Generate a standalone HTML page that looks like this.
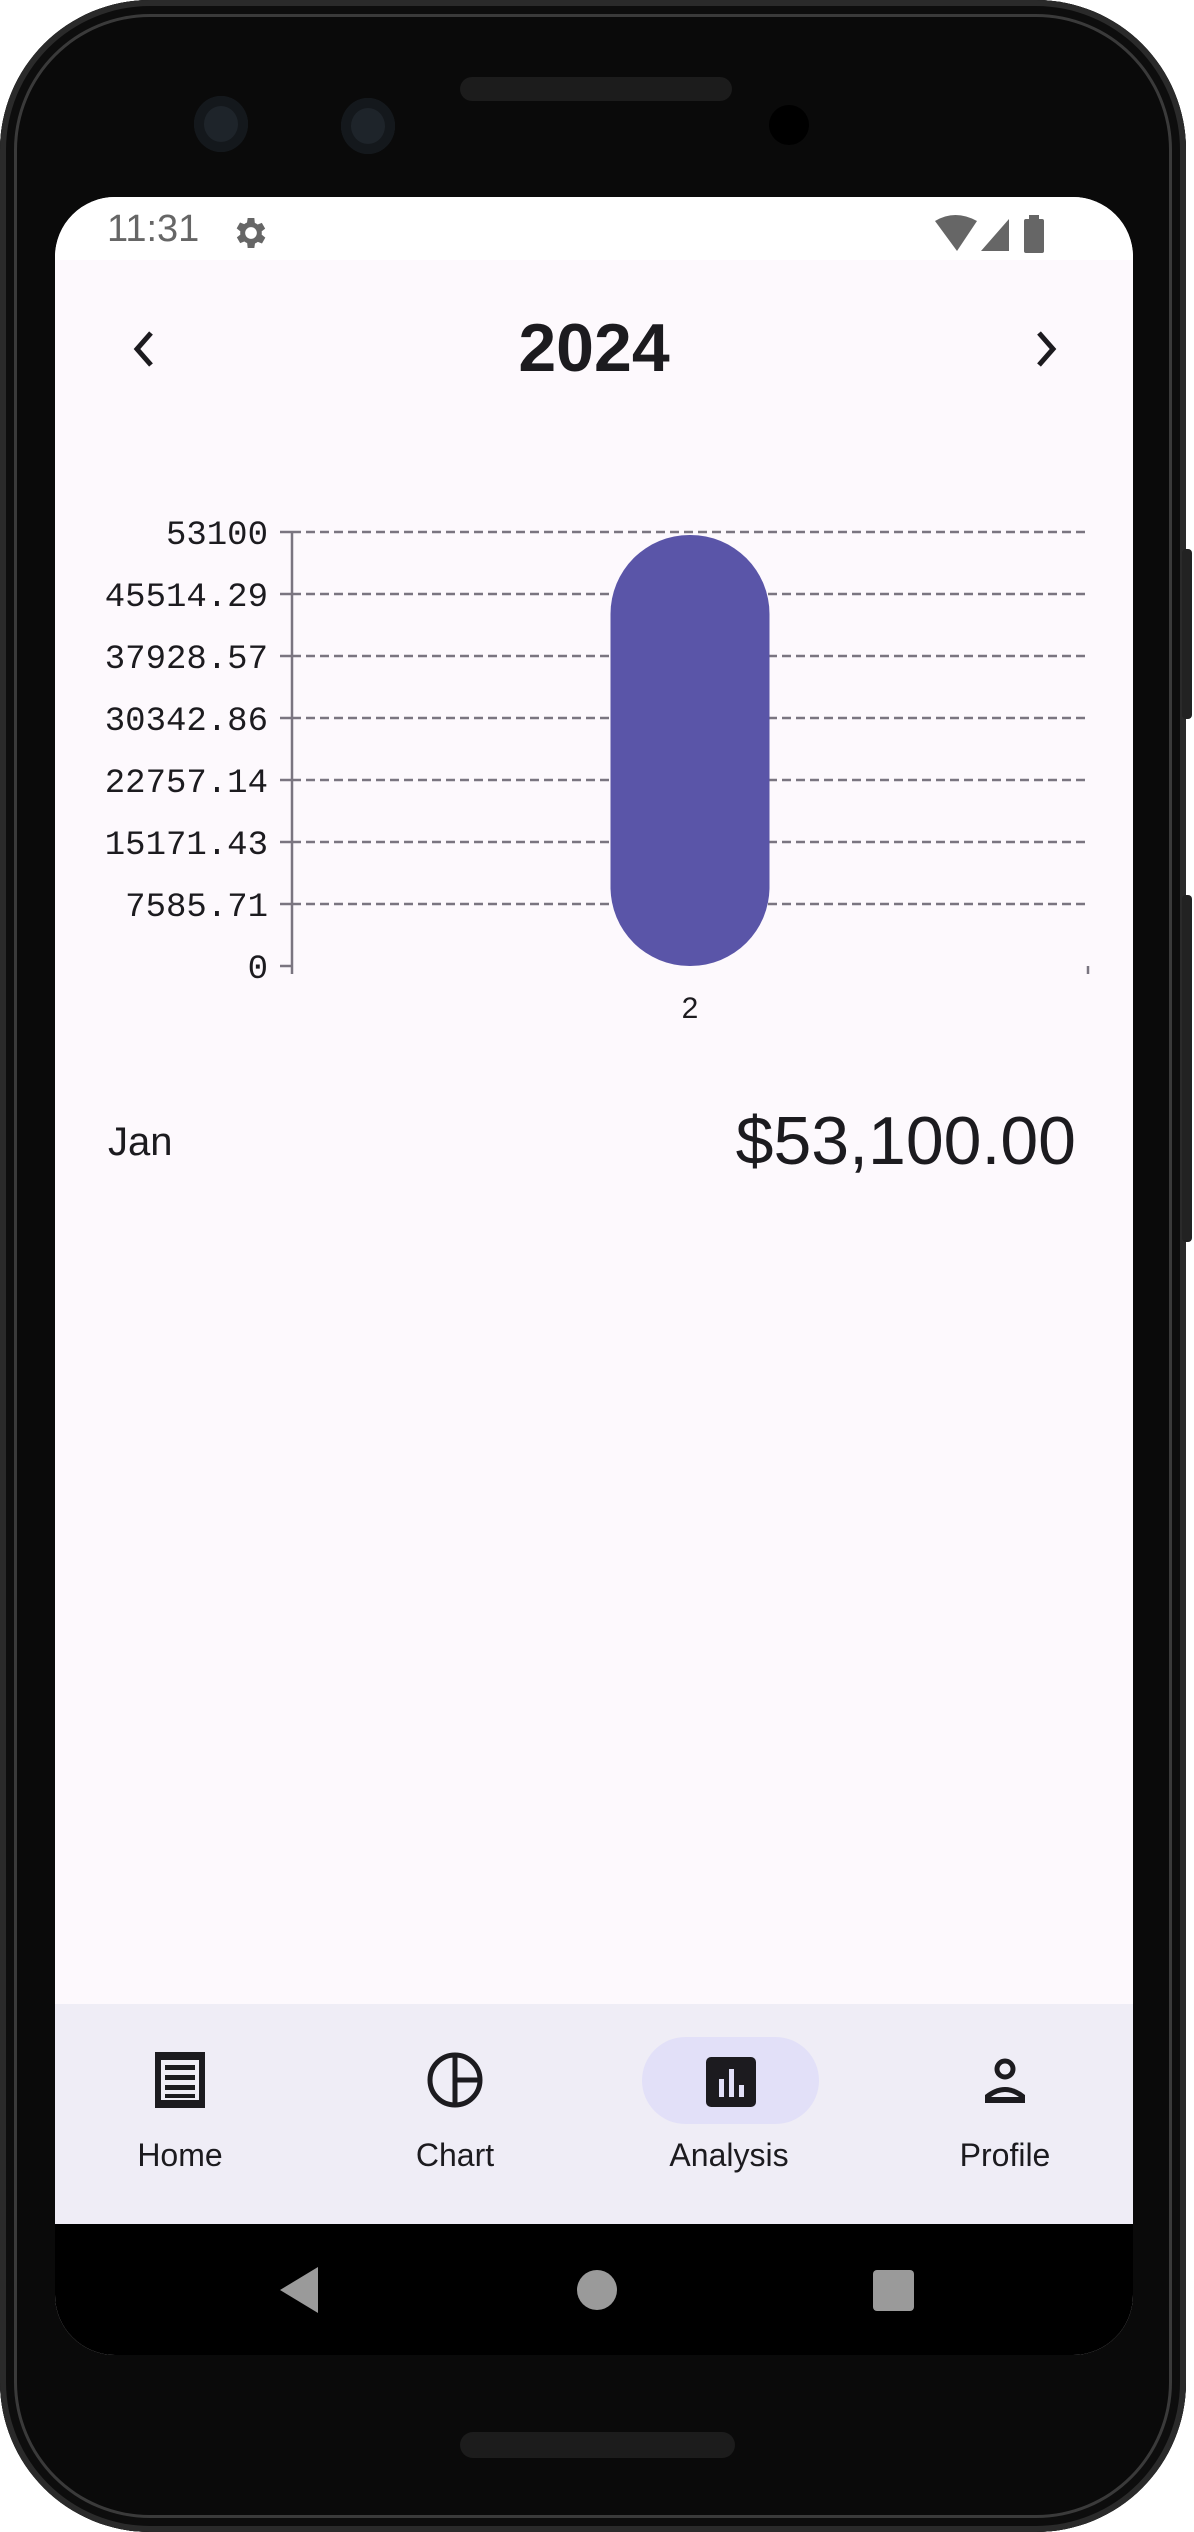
<!DOCTYPE html>
<html><head><meta charset="utf-8"><style>
body{margin:0;width:1194px;height:2532px;background:#fff;position:relative;overflow:hidden;font-family:"Liberation Sans",sans-serif}
.abs{position:absolute}
</style></head><body>
<div class="abs" style="left:0;top:0;width:1186px;height:2532px;background:#0a0a0a;border-radius:150px;box-shadow:inset 0 0 0 6px #2a2a2a,inset 0 0 0 14px #0d0d0d,inset 0 0 0 17px #3a3a3a"></div>
<div class="abs" style="left:1182px;top:549px;width:10px;height:170px;background:#222;border-radius:4px"></div>
<div class="abs" style="left:1182px;top:895px;width:10px;height:347px;background:#222;border-radius:4px"></div>
<div class="abs" style="left:460px;top:77px;width:272px;height:24px;background:#1c1c1c;border-radius:12px"></div>
<div class="abs" style="left:194px;top:96px;width:54px;height:56px;background:#1e242a;border-radius:50%;box-shadow:inset 0 0 0 10px #14181c"></div>
<div class="abs" style="left:341px;top:98px;width:54px;height:56px;background:#1e242a;border-radius:50%;box-shadow:inset 0 0 0 10px #14181c"></div>
<div class="abs" style="left:769px;top:105px;width:40px;height:40px;background:#000;border-radius:50%"></div>
<div class="abs" style="left:460px;top:2432px;width:275px;height:26px;background:#1c1c1c;border-radius:13px"></div>

<div class="abs" style="left:55px;top:197px;width:1078px;height:2158px;background:#fdf9fd;border-radius:60px 60px 60px 60px;overflow:hidden">
  <div class="abs" style="left:0;top:0;width:1078px;height:63px;background:#fff"></div>
  <div class="abs" style="left:52px;top:11px;font-size:38px;color:#666">11:31</div>
  <svg class="abs" style="left:176px;top:16px" width="40" height="40" viewBox="0 0 24 24"><path fill="#666" d="M19.4 13a7.5 7.5 0 0 0 0-2l2.1-1.6-2-3.5-2.5 1a7 7 0 0 0-1.7-1L15 3h-4l-.4 2.7a7 7 0 0 0-1.7 1l-2.5-1-2 3.5L6.6 11a7.5 7.5 0 0 0 0 2l-2.1 1.6 2 3.5 2.5-1a7 7 0 0 0 1.7 1L11 21h4l.4-2.7a7 7 0 0 0 1.7-1l2.5 1 2-3.5zM13 15.5a3.5 3.5 0 1 1 0-7 3.5 3.5 0 0 1 0 7z" transform="translate(-1 0)"/></svg>
  <svg class="abs" style="left:880px;top:16px" width="130" height="44"><path d="M0 8 Q20 -4 42 8 L22 38Z" fill="#666"/><path d="M46 38 L74 6 L74 38Z" fill="#666"/><rect x="89" y="6" width="20" height="34" rx="2" fill="#666"/><rect x="94" y="2" width="10" height="6" fill="#666"/></svg>

  <div class="abs" style="left:70px;top:122px">
    <svg width="40" height="60" viewBox="0 0 40 60"><path d="M26 14 L12 30 L26 46" stroke="#1c1b1f" stroke-width="5" fill="none"/></svg></div>
  <div class="abs" style="left:0;width:1078px;top:112px;text-align:center;font-size:68px;font-weight:bold;color:#1c1b1f">2024</div>
  <div class="abs" style="left:970px;top:122px">
    <svg width="40" height="60" viewBox="0 0 40 60"><path d="M14 14 L28 30 L14 46" stroke="#1c1b1f" stroke-width="5" fill="none"/></svg></div>

  <div class="abs" style="left:53px;top:923px;font-size:40px;color:#1c1b1f">Jan</div>
  <div class="abs" style="right:57px;top:905px;font-size:68px;color:#1c1b1f">$53,100.00</div>

  <div class="abs" style="left:0;top:1807px;width:1078px;height:220px;background:#efedf6"></div>
  <div class="abs" style="left:587px;top:1840px;width:177px;height:87px;background:#e2e0f8;border-radius:44px"></div>
  <svg class="abs" style="left:100px;top:1855px" width="50" height="56"><path d="M0 0 L50 0 L50 56 L0 56Z" fill="#1c1b1f"/><rect x="6" y="8" width="38" height="40" fill="#efedf6"/><rect x="10" y="13" width="30" height="5" fill="#1c1b1f"/><rect x="10" y="23" width="30" height="5" fill="#1c1b1f"/><rect x="10" y="33" width="30" height="5" fill="#1c1b1f"/><rect x="10" y="42" width="30" height="4" fill="#1c1b1f"/></svg>
  <svg class="abs" style="left:372px;top:1855px" width="56" height="56"><circle cx="28" cy="28" r="25" stroke="#1c1b1f" stroke-width="5" fill="none"/><path d="M28 3 V53 M28 28 H53" stroke="#1c1b1f" stroke-width="5"/></svg>
  <svg class="abs" style="left:651px;top:1860px" width="50" height="50"><rect width="50" height="50" rx="5" fill="#1c1b1f"/><rect x="13" y="22" width="5" height="18" fill="#e2e0f8"/><rect x="23" y="12" width="5" height="28" fill="#e2e0f8"/><rect x="33" y="28" width="5" height="12" fill="#e2e0f8"/></svg>
  <svg class="abs" style="left:927px;top:1860px" width="46" height="50"><circle cx="23" cy="12" r="8" stroke="#1c1b1f" stroke-width="5" fill="none"/><path d="M3 46 V38 Q23 22 43 38 V46Z" fill="#1c1b1f"/><path d="M9 40 Q23 30 37 40Z" fill="#efedf6"/></svg>
  <div class="abs" style="left:45px;width:160px;top:1940px;text-align:center;font-size:32px;color:#1c1b1f">Home</div>
  <div class="abs" style="left:320px;width:160px;top:1940px;text-align:center;font-size:32px;color:#1c1b1f">Chart</div>
  <div class="abs" style="left:594px;width:160px;top:1940px;text-align:center;font-size:32px;color:#1c1b1f">Analysis</div>
  <div class="abs" style="left:870px;width:160px;top:1940px;text-align:center;font-size:32px;color:#1c1b1f">Profile</div>

  <div class="abs" style="left:0;top:2027px;width:1078px;height:131px;background:#000"></div>
  <svg class="abs" style="left:225px;top:2070px" width="40" height="46"><path d="M38 0 V46 L0 23Z" fill="#9a9a9a"/></svg>
  <div class="abs" style="left:522px;top:2073px;width:40px;height:40px;border-radius:50%;background:#9a9a9a"></div>
  <div class="abs" style="left:818px;top:2073px;width:41px;height:41px;border-radius:4px;background:#9a9a9a"></div>
</div>

<svg id="chart" class="abs" style="left:0;top:0" width="1194" height="1100"></svg>
<script>
const categories=["2"];
const values=[53100];
const tickLabels=["0","7585.71","15171.43","22757.14","30342.86","37928.57","45514.29","53100"];
const yMax=53100;
const svg=document.getElementById('chart');
const NS='http://www.w3.org/2000/svg';
const x0=292,x1=1088,yTop=532,yZero=966;
const yScale=v=>yZero-(v/yMax)*(yZero-yTop);
const band=(x1-x0)/categories.length;
const xCenter=i=>x0+band*(i+0.5)+(690-(x0+band*0.5));
function mk(tag,attrs){const e=document.createElementNS(NS,tag);for(const k in attrs)e.setAttribute(k,attrs[k]);svg.appendChild(e);return e;}
tickLabels.forEach((t,i)=>{
  const v=parseFloat(t);const y=yScale(v);
  if(v>0){const g=mk('line',{x1:x0,x2:x1,y1:y,y2:y,stroke:'#7a7580','stroke-width':2.5,'stroke-dasharray':'9 5'});
  
  }
  const tk=mk('line',{x1:x0-12,x2:x0,y1:y,y2:y,stroke:'#7a7580','stroke-width':2.5});
  
  
  const tx=mk('text',{x:268,y:y+12,'text-anchor':'end','font-size':34,'font-family':'Liberation Mono, monospace',fill:'#1c1b1f'});
  tx.textContent=t;
  
  
});
const ax=mk('line',{x1:x0,x2:x0,y1:yTop,y2:yZero+8,stroke:'#7a7580','stroke-width':2.5});


const rt=mk('line',{x1:x1,x2:x1,y1:yZero,y2:yZero+8,stroke:'#7a7580','stroke-width':2.5});


const bw=159,r=79;
values.forEach((v,i)=>{
  const cx=xCenter(i);const yt=yScale(v)+3;const yb=yZero;
  const b=mk('rect',{x:cx-bw/2,y:yt,width:bw,height:Math.max(yb-yt,0),rx:r,ry:r,fill:'#5a55a8'});
  
  
  const l=mk('text',{x:cx,y:1018,'text-anchor':'middle','font-size':30,'font-family':'Liberation Sans, sans-serif',fill:'#1c1b1f'});
  l.textContent=categories[i];
  
  
});
</script>
</body></html>
